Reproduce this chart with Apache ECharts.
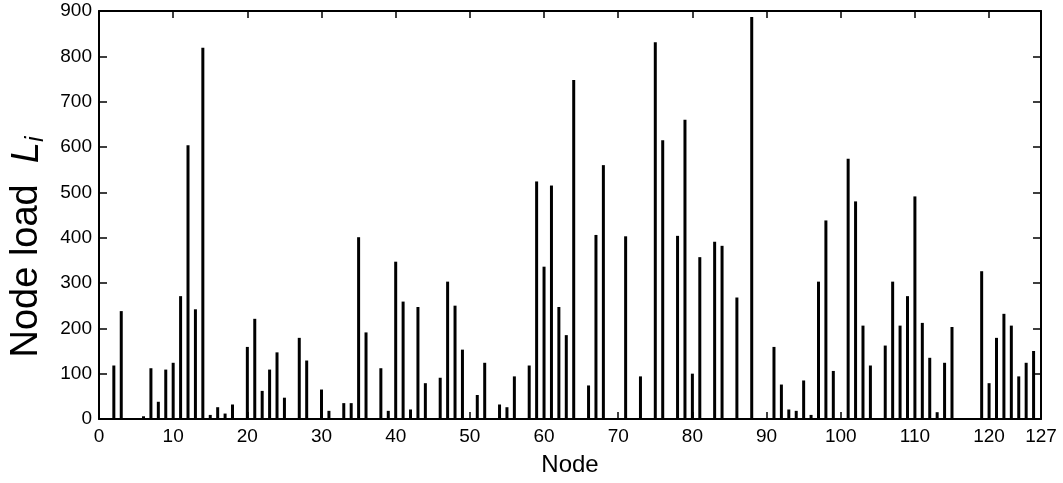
<!DOCTYPE html>
<html>
<head>
<meta charset="utf-8">
<script src="https://cdn.jsdelivr.net/npm/echarts@6/dist/echarts.min.js"></script>
<style>
html,body{margin:0;padding:0;background:#fff;}
#c{width:1063px;height:483px;}
</style>
</head>
<body>
<div id="c"></div>
<script>
const nodes = [2,3,6,7,8,9,10,11,12,13,14,15,16,17,18,20,21,22,23,24,25,27,28,30,31,33,34,35,36,38,39,40,41,42,43,44,46,47,48,49,51,52,54,55,56,58,59,60,61,62,63,64,66,67,68,71,73,75,76,78,79,80,81,83,84,86,88,91,92,93,94,95,96,97,98,99,101,102,103,104,106,107,108,109,110,111,112,113,114,115,119,120,121,122,123,124,125,126];
const loads = [118,238,6,112,38,109,124,271,604,242,819,9,26,12,32,159,221,62,109,147,47,179,129,65,18,35,35,401,191,112,18,347,259,21,247,79,91,303,250,153,53,124,32,26,94,118,524,336,515,247,185,748,74,406,560,403,94,831,615,404,660,100,357,391,382,268,887,159,76,21,18,85,9,303,438,106,574,480,206,118,162,303,206,271,491,212,135,15,124,203,326,79,179,232,206,94,124,150];
const xTicks = [0,10,20,30,40,50,60,70,80,90,100,110,120,127];
const xTopTicks = [10,20,30,40,50,60,70,80,90,100,110,120];
const FONT = 'Liberation Sans';

const chart = echarts.init(document.getElementById('c'), null, {renderer:'canvas'});
const lineStyle = {color:'#000', width:2};
chart.setOption({
  backgroundColor:'#fff',
  animation:false,
  grid:{left:98, right:22, top:11, bottom:64, containLabel:false},
  xAxis:[{
    type:'value', min:0, max:127, position:'bottom',
    name:'Node', nameLocation:'middle', nameGap:34,
    nameTextStyle:{fontFamily:FONT, fontSize:24, color:'#000'},
    axisLine:{show:true, onZero:false, lineStyle:lineStyle},
    axisTick:{show:true, inside:true, length:7, customValues:xTicks, lineStyle:{color:'#000', width:1.5}},
    axisLabel:{customValues:xTicks, fontFamily:FONT, fontSize:19, color:'#000', margin:8},
    splitLine:{show:false}
  },{
    type:'value', min:0, max:127, position:'top',
    axisLine:{show:true, onZero:false, lineStyle:lineStyle},
    axisTick:{show:true, inside:true, length:7, customValues:xTopTicks, lineStyle:{color:'#000', width:1.5}},
    axisLabel:{show:false},
    splitLine:{show:false}
  }],
  yAxis:[{
    type:'value', min:0, max:900, interval:100, position:'left',
    name:'{a|Node load  }{b|L}{c|i}', nameLocation:'middle', nameGap:50, nameRotate:90,
    nameTextStyle:{fontFamily:FONT, fontSize:38, color:'#000', padding:[0,64,0,0],
      rich:{
        a:{fontFamily:FONT, fontSize:38, color:'#000', lineHeight:44, verticalAlign:'middle'},
        b:{fontFamily:FONT, fontSize:38, fontStyle:'italic', color:'#000', lineHeight:44, verticalAlign:'middle'},
        c:{fontFamily:FONT, fontSize:25, fontStyle:'italic', color:'#000', lineHeight:44, verticalAlign:'bottom'}
      }},
    axisLine:{show:true, onZero:false, lineStyle:lineStyle},
    axisTick:{show:true, inside:true, length:8, lineStyle:{color:'#000', width:1.5}},
    axisLabel:{fontFamily:FONT, fontSize:19, color:'#000', margin:7},
    splitLine:{show:false}
  },{
    type:'value', min:0, max:900, interval:100, position:'right',
    axisLine:{show:true, onZero:false, lineStyle:lineStyle},
    axisTick:{show:true, inside:true, length:8, lineStyle:{color:'#000', width:1.5}},
    axisLabel:{show:false},
    splitLine:{show:false}
  }],
  series:[{
    type:'bar', xAxisIndex:0, yAxisIndex:0,
    barWidth:3,
    itemStyle:{color:'#000'},
    data: nodes.map((n,i)=>[n, loads[i]])
  }]
});
</script>
</body>
</html>
